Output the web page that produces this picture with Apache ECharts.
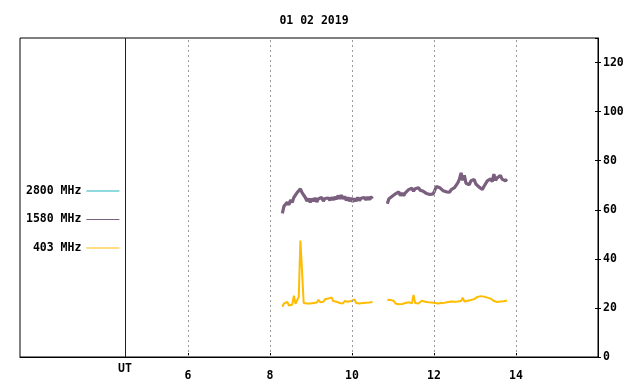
<!DOCTYPE html>
<html>
<head>
<meta charset="utf-8">
<script src="https://cdn.jsdelivr.net/npm/echarts@6/dist/echarts.min.js"></script>
<style>html,body{margin:0;padding:0;background:#fff}#c{width:640px;height:384px}</style>
</head>
<body>
<div id="c"></div>
<script>
// ---- data ----
const titleText = '01 02 2019';
const seriesNames = ['2800 MHz', '1580 MHz', '403 MHz'];
const xTickValues = [6, 8, 10, 12, 14];
const utHour = 4.46;
const sampleStep = 0.04; // hours between samples
const seg1Start = 8.30;
const seg2Start = 10.86;

const f2800 = []; // not visible in the reference

const f1580seg1 = [58.5,61.5,61,63,62,64,63,65,64.5,67,66.5,68.5,67,67.5,65,63.5,64.5,63,64.5,63.5,
  64.8,63.2,64.5,63.8,65,63.5,64.6,63.8,64.8,63.9,65,64,65.2,64.3,65.8,64.5,66,64.4,65.5,63.8,
  65,63.5,64.8,63.2,64.6,63.5,65,63.8,64.7,63.9,65,64,65.2,64.1,65.3,64.5];
const f1580seg2 = [62.5,64.5,64,65.5,65,66.5,66,67.3,65.8,66.8,65.7,66.9,67,68.2,67.5,68.8,67.6,68.6,67.8,69,
  68,68.7,67.5,67.8,66.6,67.2,66.2,67,66.5,68,69.5,70.2,69,68.5,67.8,68.5,67.3,68,67.2,68.2,
  67.8,69,69.5,71,72.5,75,72,74,70.8,71.5,70.2,71.8,71,72.3,70.5,70.8,69.2,69.5,68.3,69.6,
  70.2,71.8,71,72.6,71.5,74.5,72,73,72.2,74,72.5,73.2,71.8,72.5];

const f403seg1 = [20.5,21.8,21.2,22.5,21,21.8,21.3,25,21.7,22,24.5,47.5,35,22,22.3,21.8,21.2,21.8,21.5,22,
  21.8,22.2,23.3,22.3,22.8,22.5,23.5,22.8,23.8,23,24.3,22.8,23.2,22.5,23,22,22.6,21.8,22.8,22,
  22.5,22.3,22.8,22.4,23.5,22,22.6,21.8,22.5,22,21.8,22.1,21.8,22.2,21.9,22.4];
const f403seg2 = [23.2,22.8,23.3,22.5,22.8,21.8,22.2,21.5,22,21.6,22.2,22,22.8,22.3,22.5,21.9,25.3,22,22.6,21.8,
  22.4,22.9,22.1,22.5,21.8,22.3,21.7,22.2,22.6,22,22.3,21.8,22.2,22,22.5,22.1,22.8,22.4,23.2,22.6,
  23,22.5,23.3,22.6,22.4,22.8,24.2,22.6,22.5,22.9,23.5,23.2,23.8,23.6,24.2,24.5,25,24.8,25.6,24.6,
  24.8,24.2,24.5,23.8,23.4,22.8,23.2,22.4,22.9,22.6,23,22.7,23.4,23];

// ---- build ----
function toPairs(start, vals) {
  return vals.map((v, i) => [+(start + i * sampleStep).toFixed(3), v]);
}
function joinSegs(a, b) { return a.concat([[null, null]], b); }
const d1580 = joinSegs(toPairs(seg1Start, f1580seg1), toPairs(seg2Start, f1580seg2));
const d403 = joinSegs(toPairs(seg1Start, f403seg1), toPairs(seg2Start, f403seg2));

const FONT = 'DejaVu Sans Mono';
const FS = 11.5;
const txt = { fontFamily: FONT, fontWeight: 'bold', fontSize: FS, color: '#000' };

const chart = echarts.init(document.getElementById('c'), null, { renderer: 'canvas' });
chart.setOption({
  animation: false,
  backgroundColor: '#fff',
  title: { text: titleText, left: 309, top: 10, textAlign: 'center', textStyle: Object.assign({}, txt) },
  legend: {
    orient: 'vertical', left: 21, top: 179, align: 'right',
    itemWidth: 33, itemHeight: 1, itemGap: 14.5, icon: 'rect',
    data: seriesNames,
    formatter: n => n.padStart(8, ' '),
    textStyle: Object.assign({ lineHeight: 14 }, txt)
  },
  grid: { left: 20, right: 42, top: 38, bottom: 27, show: true, borderColor: '#000', borderWidth: 1 },
  xAxis: {
    type: 'value', min: 1.9, max: 16,
    axisLine: { lineStyle: { color: '#000', width: 1 } },
    axisTick: { customValues: xTickValues, inside: true, length: 4, lineStyle: { color: '#000' } },
    axisLabel: { customValues: xTickValues, margin: 13, fontFamily: FONT, fontWeight: 'bold', fontSize: FS, color: '#000' },
    splitLine: { show: false }
  },
  yAxis: [{
    type: 'value', position: 'right', min: 0, max: 130, interval: 20,
    axisLine: { show: true, lineStyle: { color: '#000' } },
    axisTick: { show: true, length: 3, lineStyle: { color: '#000' } },
    axisLabel: { showMaxLabel: false, margin: 5, fontFamily: FONT, fontWeight: 'bold', fontSize: FS, color: '#000' },
    splitLine: { show: false }
  }, {
    type: 'value', position: 'right', min: 0, max: 130, interval: 20,
    axisLine: { show: false },
    axisTick: { show: true, inside: true, length: 3, lineStyle: { color: '#000' } },
    axisLabel: { show: false },
    splitLine: { show: false }
  }],
  series: [
    {
      name: seriesNames[0], type: 'line', data: f2800, showSymbol: false,
      color: '#1fb5c1', lineStyle: { width: 1 },
      markLine: {
        silent: true, symbol: 'none', animation: false,
        label: { show: false },
        lineStyle: { color: '#9a9a9a', type: [2, 3], width: 1 },
        data: xTickValues.map(v => ({ xAxis: v })).concat([{
          xAxis: utHour,
          lineStyle: { color: '#6b0000', type: 'solid', width: 1 },
          label: { show: true, position: 'start', formatter: 'UT', distance: 6, fontFamily: FONT, fontWeight: 'bold', fontSize: FS, color: '#000' }
        }])
      }
    },
    {
      name: seriesNames[1], type: 'line', data: d1580, showSymbol: false, connectNulls: false,
      color: '#7a6080', lineStyle: { width: 3.2, color: '#7a5f7e', join: 'bevel' }, z: 3
    },
    {
      name: seriesNames[2], type: 'line', data: d403, showSymbol: false, connectNulls: false,
      color: '#ffc000', lineStyle: { width: 2, color: '#ffbc00', join: 'bevel' }, z: 4
    }
  ]
});
</script>
</body>
</html>
